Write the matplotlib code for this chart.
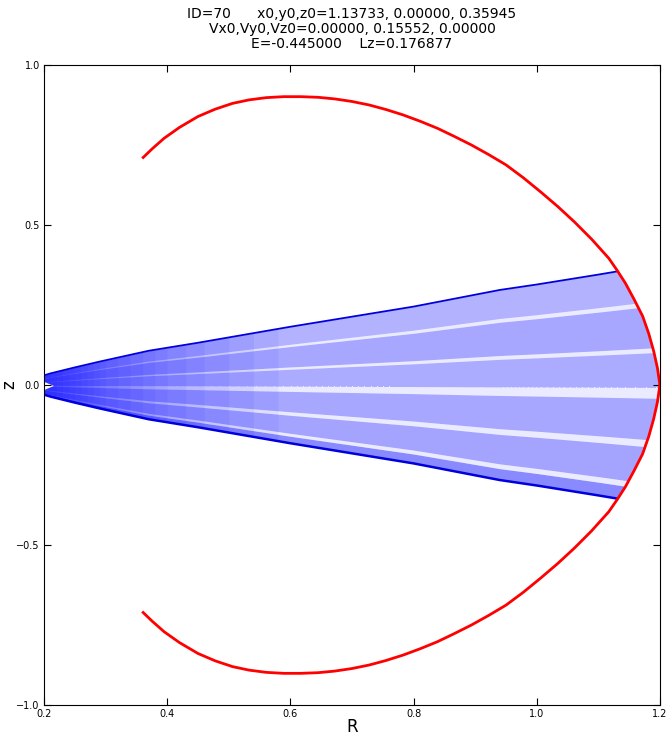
import numpy as np
import matplotlib.pyplot as plt
from matplotlib.patches import Polygon

# courbe de vitesse nulle (moitie haute, symetrique en z)
zvc_R = [0.361, 0.375, 0.395, 0.420, 0.450, 0.478, 0.506, 0.533, 0.561, 0.589,
         0.617, 0.645, 0.672, 0.700, 0.728, 0.755, 0.783, 0.811, 0.839, 0.866,
         0.894, 0.922, 0.950, 0.978, 1.006, 1.034, 1.061, 1.089, 1.117, 1.131,
         1.144, 1.158, 1.172, 1.182, 1.190, 1.196, 1.200]
zvc_z = [0.711, 0.737, 0.771, 0.805, 0.839, 0.862, 0.880, 0.891, 0.898, 0.901,
         0.901, 0.899, 0.894, 0.886, 0.875, 0.861, 0.844, 0.824, 0.802, 0.777,
         0.750, 0.720, 0.688, 0.648, 0.604, 0.558, 0.510, 0.456, 0.396, 0.357,
         0.318, 0.268, 0.215, 0.160, 0.105, 0.053, 0.000]

# bord superieur de l'orbite (eventail)
fan_R = [0.200, 0.210, 0.250, 0.290, 0.370, 0.450, 0.600, 0.800, 0.940, 1.000, 1.100, 1.137, 1.200]
fan_top = [0.030, 0.036, 0.055, 0.073, 0.107, 0.132, 0.182, 0.245, 0.297, 0.314, 0.345, 0.357, 0.378]

# bandes plus denses et trous clairs (fraction de la demi-largeur)
band_lo = [0.70, 0.31, -0.02, -0.46, -0.83, -1.00]
band_hi = [1.00, 0.66, 0.27, -0.11, -0.52, -0.88]
band_alpha = [0.00, 0.06, 0.04, 0.06, 0.08, 0.22]
gap_lo = [0.66, 0.27, -0.11, -0.52, -0.88]
gap_hi = [0.70, 0.31, -0.02, -0.46, -0.83]

# zone dense pres du point de rebroussement
dense_end = [0.21, 0.22, 0.23, 0.24, 0.25, 0.26, 0.27, 0.28, 0.29, 0.30,
             0.32, 0.34, 0.36, 0.38, 0.40, 0.43, 0.46, 0.50, 0.54, 0.58]
notch_R = [0.200, 0.216, 0.200]
notch_z = [0.010, -0.003, -0.016]

title = ("ID=70      x0,y0,z0=1.13733, 0.00000, 0.35945\n"
         "Vx0,Vy0,Vz0=0.00000, 0.15552, 0.00000\n"
         "E=-0.445000    Lz=0.176877")

fig = plt.figure(figsize=(6.72, 7.36), dpi=100)
ax = fig.add_axes([0.0655, 0.0421, 0.9165, 0.8696])

R = np.array(fan_R)
top = np.array(fan_top)
zR = np.array(zvc_R)
zz = np.array(zvc_z)

# contour ferme pour couper l'orbite sur la zvc
poly_R = np.concatenate([[0.19], zR, zR[::-1][1:], [0.19]])
poly_z = np.concatenate([[zz[0]], zz, -zz[::-1][1:], [-zz[0]]])
clip = Polygon(np.column_stack([poly_R, poly_z]), closed=True, transform=ax.transData,
               facecolor='none', edgecolor='none')
ax.add_patch(clip)

base = ax.fill_between(R, -top, top, color='blue', alpha=0.30, lw=0)
base.set_clip_path(clip)
for lo, hi, a in zip(band_lo, band_hi, band_alpha):
    if a > 0:
        f = ax.fill_between(R, lo * top, hi * top, color='blue', alpha=a, lw=0)
        f.set_clip_path(clip)
for lo, hi in zip(gap_lo, gap_hi):
    f = ax.fill_between(R, lo * top, hi * top, color='white', alpha=0.75, lw=0)
    f.set_clip_path(clip)

for e in dense_end:
    m = R <= e
    t_e = np.interp(e, R, top)
    ax.fill_between(np.append(R[m], e), -np.append(top[m], t_e), np.append(top[m], t_e),
                    color='blue', alpha=0.055, lw=0)

ax.fill(notch_R, notch_z, color='white', lw=0)

l1, = ax.plot(R, top, color='#0000dd', lw=1.3)
l2, = ax.plot(R, -top, color='#0000dd', lw=1.8)
l1.set_clip_path(clip)
l2.set_clip_path(clip)

ax.plot(zR, zz, color='red', lw=2)
ax.plot(zR, -zz, color='red', lw=2)

ax.set_xlim(0.2, 1.2)
ax.set_ylim(-1.0, 1.0)
ax.set_xticks([0.2, 0.4, 0.6, 0.8, 1.0, 1.2])
ax.set_yticks([-1.0, -0.5, 0.0, 0.5, 1.0])
ax.tick_params(direction='in', top=True, right=True, length=5, labelsize=7, pad=3)
ax.set_xlabel('R', fontsize=12, labelpad=-1)
ax.set_ylabel('z', fontsize=12)
ax.yaxis.set_label_coords(-0.042, 0.5)
ax.set_title(title, fontsize=10, pad=12, linespacing=1.1)

fig.savefig('out.png', dpi=100)
